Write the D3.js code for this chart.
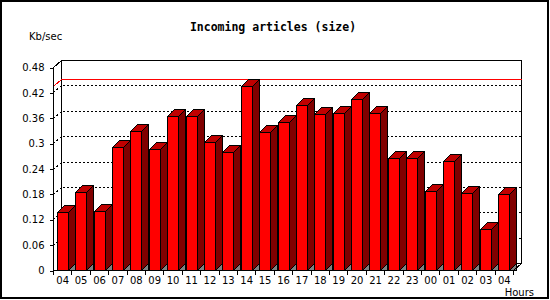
<!DOCTYPE html>
<html>
<head>
<meta charset="utf-8">
<script src="https://cdn.jsdelivr.net/npm/d3@7/dist/d3.min.js"></script>
<style>
  body { margin: 0; background: #fff; }
  svg text { font-family: "DejaVu Sans", sans-serif; font-size: 10px; fill: #000; }
</style>
</head>
<body>
<svg id="chart"></svg>
<script>
// hours of the day (last 24h, starting at 04)
const hours = ["04","05","06","07","08","09","10","11","12","13","14","15","16","17","18","19","20","21","22","23","00","01","02","03","04"];
// incoming article size, Kb/sec
const sizeKb = [0.136,0.184,0.139,0.290,0.329,0.285,0.363,0.363,0.302,0.278,0.435,0.326,0.350,0.390,0.369,0.371,0.404,0.371,0.264,0.264,0.186,0.257,0.181,0.096,0.179];
const yTicks = [0,0.06,0.12,0.18,0.24,0.30,0.36,0.42,0.48];
const yTickLabels = ["0","0.06","0.12","0.18","0.24","0.3","0.36","0.42","0.48"];

const W = 550, H = 300;
const margin = {top: 67, right: 37, bottom: 30, left: 53};
const depth = {dx: 8, dy: 7};   // 3d offset of the back wall
const barDepth = 7, barW = 11;

const svg = d3.select("#chart").attr("width", W).attr("height", H);

// outer frame
svg.append("rect").attr("x", 1).attr("y", 1).attr("width", W - 3).attr("height", H - 3)
  .attr("fill", "#fff").attr("stroke", "#000").attr("stroke-width", 2);

const x = d3.scaleBand()
  .domain(d3.range(hours.length))
  .range([margin.left, W - margin.right])
  .padding(0);

const y = d3.scaleLinear()
  .domain([0, 0.48])
  .range([H - margin.bottom, margin.top]);

const g = svg.append("g").attr("transform", "translate(0.5,0.5)").attr("shape-rendering", "crispEdges");

const x0 = margin.left, x1 = W - margin.right;
const y0 = y(0), yTop = y(0.48);

// back wall
g.append("rect")
  .attr("x", x0 + depth.dx).attr("y", yTop - depth.dy)
  .attr("width", x1 - x0).attr("height", y0 - yTop)
  .attr("fill", "#fff").attr("stroke", "#000");

// grid lines on the back wall and side diagonal
const grid = yTicks.filter(d => d > 0 && d < 0.48);
grid.forEach(d => {
  const yy = Math.round(y(d));
  g.append("path")
    .attr("d", `M${x0},${yy}L${x0 + depth.dx},${yy - depth.dy}H${x1 + depth.dx}`)
    .attr("fill", "none").attr("stroke", "#000").attr("stroke-dasharray", "2,2");
});

// max line
const yMax = Math.round(y(d3.max(sizeKb)));
g.append("path")
  .attr("d", `M${x0 + 1},${yMax - 1}L${x0 + depth.dx},${yMax - depth.dy}H${x1 + depth.dx}`)
  .attr("fill", "none").attr("stroke", "#ff0000");

// bars
const bars = g.selectAll(".bar").data(sizeKb).enter().append("g").attr("class", "bar");
bars.each(function(v, i) {
  const b = d3.select(this);
  const bx = Math.round(x(i) + (x.bandwidth() - barW) / 2);
  const bx2 = bx + barW;
  const by = Math.round(y(v));
  // floor shadow
  b.append("polygon")
    .attr("points", [[bx2, y0], [bx2 + barDepth, y0 - barDepth], [bx2 + barDepth, y0]].join(" "))
    .attr("fill", "#808080").attr("stroke", "#000");
  // side
  b.append("polygon")
    .attr("points", [[bx2, by], [bx2 + barDepth, by - barDepth], [bx2 + barDepth, y0 - barDepth], [bx2, y0]].join(" "))
    .attr("fill", "#800000").attr("stroke", "#000");
  // top
  b.append("polygon")
    .attr("points", [[bx, by], [bx + barDepth, by - barDepth], [bx2 + barDepth, by - barDepth], [bx2, by]].join(" "))
    .attr("fill", "#c00000").attr("stroke", "#000");
  // front
  b.append("rect")
    .attr("x", bx).attr("y", by).attr("width", barW).attr("height", y0 - by)
    .attr("fill", "#ff0000").attr("stroke", "#000");
});

// axis lines and corner diagonals
g.append("path")
  .attr("d", `M${x0 + depth.dx},${yTop - depth.dy}L${x0},${yTop}V${y0}H${x1}L${x1 + depth.dx},${y0 - depth.dy}`)
  .attr("fill", "none").attr("stroke", "#000");

// y axis
const yAxis = g.append("g")
  .attr("transform", `translate(${x0},0)`)
  .call(d3.axisLeft(y).tickValues(yTicks).tickFormat((d, i) => yTickLabels[i]).tickSize(4).tickPadding(5).tickSizeOuter(0));
yAxis.select(".domain").remove();
yAxis.selectAll("text").attr("font-family", null).attr("font-size", null);
yAxis.attr("font-family", null).attr("font-size", null);

// x axis: labels centred in band, ticks at band edges
const xAxis = g.append("g")
  .attr("transform", `translate(0,${y0})`)
  .call(d3.axisBottom(x).tickFormat(i => hours[i]).tickSize(0).tickPadding(6));
xAxis.select(".domain").remove();
xAxis.attr("font-family", null).attr("font-size", null);
xAxis.selectAll(".edge").data(d3.range(hours.length + 1)).enter().append("line")
  .attr("class", "edge")
  .attr("x1", i => Math.round(x0 + i * x.step())).attr("x2", i => Math.round(x0 + i * x.step()))
  .attr("y1", 0).attr("y2", 4).attr("stroke", "#000");

// titles
svg.append("text").attr("x", 273).attr("y", 31).attr("text-anchor", "middle")
  .style("font-family", "'DejaVu Sans Mono', monospace").style("font-size", "11.5px").style("font-weight", "bold")
  .text("Incoming articles (size)");
svg.append("text").attr("x", 29).attr("y", 40).text("Kb/sec");
svg.append("text").attr("x", 534).attr("y", 296).attr("text-anchor", "end").text("Hours");
</script>
</body>
</html>
